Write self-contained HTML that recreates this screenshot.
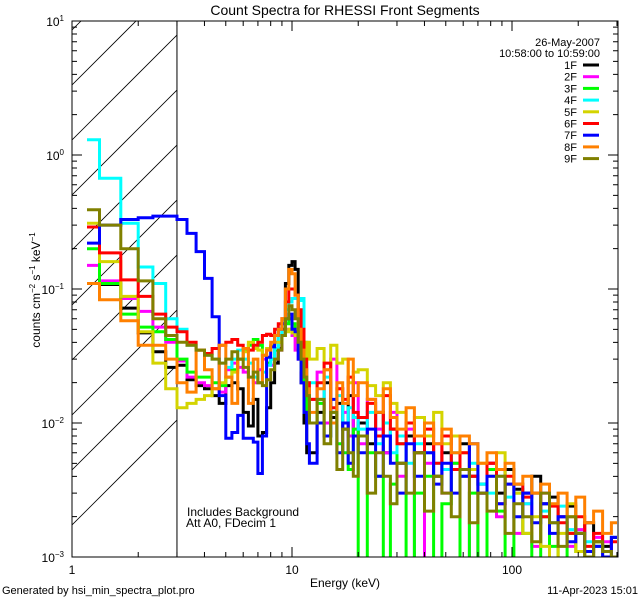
<!DOCTYPE html>
<html><head><meta charset="utf-8"><style>
html,body{margin:0;padding:0;background:#fff;width:640px;height:600px;overflow:hidden;}
svg{display:block;font-family:"Liberation Sans",sans-serif;}
</style></head><body>
<svg id="chart" width="640" height="600" viewBox="0 0 640 600" xmlns="http://www.w3.org/2000/svg">
<rect x="0" y="0" width="640" height="600" fill="#fff"/>
<text x="345" y="15" font-size="14" text-anchor="middle">Count Spectra for RHESSI Front Segments</text>
<defs><clipPath id="plotclip"><rect x="72" y="21" width="546" height="536"/></clipPath></defs>
<g id="hatch" clip-path="url(#plotclip)"></g>
<g id="series" clip-path="url(#plotclip)"></g>
<g id="axes"></g>
<g id="legend"></g>
<text x="187" y="516" font-size="12">Includes Background</text>
<text x="186" y="527" font-size="12">Att A0, FDecim 1</text>
<text x="345" y="587" font-size="12" text-anchor="middle">Energy (keV)</text>
<text transform="translate(40,290) rotate(-90)" font-size="12" text-anchor="middle">counts cm<tspan font-size="8" dy="-5">−2</tspan><tspan dy="5"> s</tspan><tspan font-size="8" dy="-5">−1</tspan><tspan dy="5"> keV</tspan><tspan font-size="8" dy="-5">−1</tspan></text>
<text x="2" y="594" font-size="11">Generated by hsi_min_spectra_plot.pro</text>
<text x="638" y="594" font-size="11" text-anchor="end">11-Apr-2023 15:01</text>
</svg>
<script>
const energyEdges=[1.17,1.333,1.667,2,2.333,2.667,3,3.333,3.667,4,4.333,4.667,5,5.333,5.667,6,6.333,6.667,7,7.333,7.667,8,8.333,8.667,9,9.333,9.667,10,10.333,10.667,11,11.333,11.667,12,13,14,15,16,17,18,19,20,22,24,26,28,30,33,36,40,44,48,53,58,64,70,77,85,93,102,112,123,135,148,162,178,195,214,235,258,283,300];
const seriesNames=["1F","2F","3F","4F","5F","6F","7F","8F","9F"];
const seriesColors=["#000000","#ff00ff","#00ff00","#00ffff","#d4d400","#ff0000","#0000ff","#ff8000","#808000"];
const s1F=[.11,.108,.072,.047,.034,.026,
.027,.021,.019,.018,.016,.014,.019,.02,.018,.012,.0095,.015,.008,.0085,.013,.02,.028,.036,.05,.11,.15,.16,.14,.06,.02,.01,.006,
.006,.012,.02,.011,.014,.009,.016,.008,
.01,.007,.012,.006,.009,.005,.008,.006,.007,.004,.006,.0045,.007,.004,.0035,.005,.003,.0045,.0032,.003,.004,.0025,.0028,.002,.0024,.0015,.0018,.0013,.0012,.0014];
const s2F=[.15,.115,.085,.068,.052,.04,
.029,.022,.02,.019,.018,.017,.025,.028,.026,.024,.022,.02,.025,.03,.028,.027,.03,.035,.045,.05,.05,.045,.035,.03,.025,.02,.018,
.015,.024,.01,.03,.018,.012,.008,.02,
.007,.015,.009,.006,.012,.004,.009,0,.005,.007,.003,.005,.004,0,.003,.005,.002,.0035,.0015,.0025,.0012,.003,.0018,.002,.0012,.0016,.001,.0014,.0013,.001];
const s3F=[.2,.11,.065,.052,.048,.042,
.03,.024,.022,.022,.02,.019,.022,.025,.03,.035,.038,.042,.038,.032,.028,.03,.035,.04,.045,.055,.06,.055,.045,.035,.025,.02,.012,
.01,.014,.008,.012,.007,.006,.0045,.009,
0,.006,.004,0,.0035,.007,0,.003,.004,0,.0025,.005,0,.003,0,.0045,.0022,0,.003,.0015,0,.002,.0012,0,.0015,.0011,0,.0012,.001,0];
const s4F=[1.3,.67,.31,.146,.11,.06,
.05,.038,.035,.032,.03,.028,.026,.03,.035,.03,.028,.022,.02,.024,.027,.03,.036,.045,.055,.07,.08,.085,.085,.082,.085,.04,.02,
.02,.015,.022,.012,.016,.01,.013,.011,
.009,.012,.007,.01,.006,.008,.005,.007,.006,.005,.0045,.006,.004,.005,.0035,.003,.004,.0028,.0035,.0025,.003,.0022,.0018,.0024,.0016,.0015,.0013,.0012,.0011,.001];
const s5F=[.31,.16,.088,.048,.028,.018,
.013,.014,.015,.016,.018,.02,.022,.024,.03,.034,.04,.036,.035,.032,.036,.038,.04,.04,.045,.048,.05,.047,.045,.04,.035,.03,.04,
.03,.036,.025,.038,.028,.03,.02,.024,
.025,.019,.016,.02,.014,.012,.01,.011,.008,.012,.007,.008,.006,.0045,.005,.004,.006,.0035,.003,.0015,.002,.0012,0,.0015,.0025,.0011,0,.0013,.001,0];
const s6F=[.29,.186,.117,.088,.065,.052,
.048,.04,.035,.033,.036,.038,.04,.042,.038,.036,.035,.038,.04,.045,.046,.045,.05,.055,.06,.08,.1,.1,.09,.07,.05,.03,.02,
.015,.02,.028,.013,.018,.015,.022,.012,
.011,.014,.008,.016,.009,.007,.01,.006,.009,.005,.008,.0045,.006,.004,.003,.005,.0025,.004,.0035,.0028,.003,.002,.0024,.0018,.0015,.002,.0012,.0015,.0011,.0013];
const s7F=[.22,.3,.33,.34,.35,.35,
.33,.26,.19,.12,.062,.016,.0077,.0085,.0114,.0077,.0077,.0072,.0042,.008,.031,.037,.045,.05,.055,.06,.065,.05,.048,.03,.02,.012,.007,
.005,.01,.008,.015,.006,.01,.005,.008,
.006,.009,.004,.008,.005,.003,.007,.004,.006,.0035,.005,.003,.004,.007,.003,.004,.0025,.0035,.002,.003,.0018,.0025,.0015,.002,.0013,.0015,.0011,.0012,.001,.0014];
const s8F=[.11,.083,.058,.038,.038,.03,
.02,.017,.035,.025,.018,.038,.022,.014,.03,.036,.014,.03,.02,.032,.035,.04,.045,.05,.06,.1,.14,.13,.09,.05,.035,.025,.018,
.012,.018,.025,.01,.02,.014,.03,.016,
.02,.015,.012,.018,.011,.009,.013,.008,.01,.007,.009,.006,.008,.007,.005,.006,.0045,.005,.0035,.004,.003,.0035,.0025,.003,.002,.0028,.0018,.0022,.0015,.0018];
const s9F=[.39,.3,.2,.115,.06,.045,
.04,.038,.035,.032,.03,.028,.03,.034,.03,.026,.022,.024,.02,.019,.021,.025,.03,.035,.045,.06,.075,.07,.06,.04,.03,.022,.016,
.01,.015,.007,.012,.0045,.009,.006,.004,
.008,.003,.006,.004,.0025,.005,.003,.006,.0022,.004,.003,.002,.0045,.0018,.003,.0022,.004,.0015,.0025,.002,.0013,.003,.0018,.0012,.002,.0015,.001,.0013,.0011,.001];
const seriesValues=[s1F,s2F,s3F,s4F,s5F,s6F,s7F,s8F,s9F];
const xTickLabels=["1","10","100"];
const yTickExponents=["1","0","−1","−2","−3"];

const NS="http://www.w3.org/2000/svg";
const X0=72,X1=618,Y0=21,Y1=557;
const PXD=220, PYD=134;
function xs(e){return X0+Math.log10(e)*PXD;}
function ys(v){if(!(v>0))return Y1+5;return Math.min(Y1+5,Y0+(1-Math.log10(v))*PYD);}
function mk(tag,attrs,parent){const el=document.createElementNS(NS,tag);for(const k in attrs)el.setAttribute(k,attrs[k]);parent.appendChild(el);return el;}

// hatching
const hatch=document.getElementById('hatch');
const xh=xs(3);
let hp="";
for(let k=-2;k<10;k++){const yl=30+55*k;hp+="M"+X0+","+yl+"L"+xh+","+(yl-(xh-X0));}
const hpath=mk('path',{d:hp,stroke:'#000','stroke-width':0.8,fill:'none'},hatch);


const vline=mk('line',{x1:xh,y1:Y0,x2:xh,y2:Y1,stroke:'#000','stroke-width':1},hatch);



// series
const sg=document.getElementById('series');
seriesValues.forEach((vals,i)=>{
  let d="M"+xs(energyEdges[0]).toFixed(1)+","+ys(vals[0]).toFixed(1);
  for(let b=0;b<vals.length;b++){
    const y=ys(vals[b]).toFixed(1);
    if(b>0)d+="L"+xs(energyEdges[b]).toFixed(1)+","+y;
    d+="L"+xs(energyEdges[b+1]).toFixed(1)+","+y;
  }
  const p=mk('path',{d:d,stroke:seriesColors[i],'stroke-width':3,fill:'none','stroke-linejoin':'miter'},sg);
  
  
});

// axes
const ax=document.getElementById('axes');
const frame=mk('rect',{x:X0,y:Y0,width:X1-X0,height:Y1-Y0,fill:'none',stroke:'#000','stroke-width':1},ax);


let td="";
for(let dec=0;dec<3;dec++){
  for(let m=1;m<10;m++){
    const e=m*Math.pow(10,dec);const x=xs(e);if(x>X1+0.5)break;
    const L=m===1?10:5;
    td+="M"+x+","+Y1+"v"+(-L)+"M"+x+","+Y0+"v"+L;
  }
}
for(let dec=-3;dec<1;dec++){
  for(let m=1;m<10;m++){
    const y=ys(m*Math.pow(10,dec));const L=m===1?10:5;
    td+="M"+X0+","+y+"h"+L+"M"+X1+","+y+"h"+(-L);
  }
}
const ticks=mk('path',{d:td,stroke:'#000','stroke-width':1,fill:'none'},ax);


xTickLabels.forEach((lab,i)=>{
  const t=mk('text',{x:xs(Math.pow(10,i)),y:574,'font-size':12,'text-anchor':'middle'},ax);
  t.textContent=lab;
  
  
});
yTickExponents.forEach((ex,i)=>{
  const y=Y0+i*PYD;
  const t=mk('text',{x:64,y:y+5,'font-size':12,'text-anchor':'end'},ax);
  
  
  const a=document.createElementNS(NS,'tspan');a.textContent="10";t.appendChild(a);
  const b=document.createElementNS(NS,'tspan');b.setAttribute('font-size','8');b.setAttribute('dy','-5');b.textContent=ex;t.appendChild(b);
});

// legend
const lg=document.getElementById('legend');
const d1=mk('text',{x:600,y:46,'font-size':11,'text-anchor':'end'},lg);d1.textContent="26-May-2007";


const d2=mk('text',{x:600,y:57,'font-size':11,'text-anchor':'end'},lg);d2.textContent="10:58:00 to 10:59:00";


seriesNames.forEach((n,i)=>{
  const y=65+i*11.7;
  const t=mk('text',{x:577,y:y+4,'font-size':11,'text-anchor':'end'},lg);t.textContent=n;
  
  
  const l=mk('line',{x1:583,y1:y,x2:599,y2:y,stroke:seriesColors[i],'stroke-width':3},lg);
  
  
});
</script>
</body></html>
